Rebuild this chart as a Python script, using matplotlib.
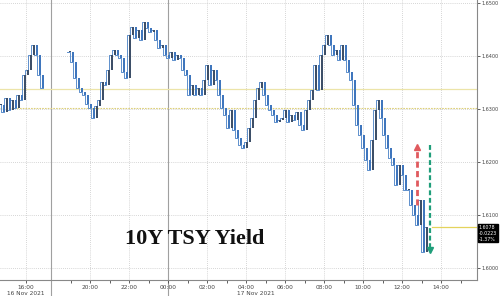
import numpy as np
import matplotlib
matplotlib.use("Agg")
import matplotlib.pyplot as plt
import matplotlib.transforms as mtransforms

# closing yield of each bar (about 9 minutes per bar); None = market closed
closes_16nov = [1.6308, 1.6295, 1.6321, 1.6298, 1.6317, 1.6302, 1.6327, 1.6317,
                1.6364, 1.6374, 1.6402, 1.6421, 1.6402, 1.6364, 1.6340]
closed_gap = [None] * 8
closes_session = [
    1.6408, 1.6389, 1.6359, 1.6340, 1.6332, 1.6327, 1.6310, 1.6302, 1.6283, 1.6306,
    1.6317, 1.6351, 1.6346, 1.6374, 1.6402, 1.6412, 1.6402, 1.6397, 1.6370, 1.6359,
    1.6440, 1.6455, 1.6434, 1.6449, 1.6431, 1.6465, 1.6453, 1.6446, 1.6449, 1.6431,
    1.6415, 1.6421, 1.6402, 1.6397, 1.6408, 1.6393, 1.6402, 1.6397, 1.6374, 1.6364,
    1.6327, 1.6346, 1.6327, 1.6340, 1.6327, 1.6355, 1.6383, 1.6346, 1.6374, 1.6355,
    1.6327, 1.6302, 1.6289, 1.6264, 1.6298, 1.6261, 1.6246, 1.6232, 1.6227, 1.6238,
    1.6264, 1.6283, 1.6317, 1.6340, 1.6351, 1.6327, 1.6308, 1.6298, 1.6289, 1.6276,
    1.6280, 1.6283, 1.6298, 1.6276, 1.6289, 1.6280, 1.6295, 1.6270, 1.6261, 1.6298,
    1.6317, 1.6336, 1.6383, 1.6336, 1.6402, 1.6421, 1.6440, 1.6421, 1.6402, 1.6412,
    1.6393, 1.6421, 1.6393, 1.6370, 1.6355, 1.6308, 1.6270, 1.6251, 1.6227, 1.6204,
    1.6185, 1.6242, 1.6298, 1.6317, 1.6283, 1.6251, 1.6227, 1.6208, 1.6195, 1.6157,
    1.6195, 1.6176, 1.6148, 1.6148, 1.6119, 1.6100, 1.6081, 1.6129, 1.6031, 1.6078,
]

last_price = 1.6078
change = "-0.0223"
change_pct = "-1.37%"
title = "10Y TSY Yield"

ref_levels = [1.6338, 1.6302]
red_arrow = (1.6119, 1.6232)
green_arrow = (1.6232, 1.6031)

tick_hours = [-8, -4, -2, 0, 2, 4, 6, 8, 10, 12, 14]
tick_labels = ["16:00", "20:00", "22:00", "00:00", "02:00", "04:00",
               "06:00", "08:00", "10:00", "12:00", "14:00"]
date_labels = ["16 Nov 2021", "17 Nov 2021"]
y_ticks = [1.60, 1.61, 1.62, 1.63, 1.64, 1.65]

BARS_PER_HOUR = 6.5
MIDNIGHT = 55.67


def hour_to_x(h):
    # the 16:00-18:00 stretch is squeezed (market closed part of it)
    if h < -6:
        return MIDNIGHT - 6 * BARS_PER_HOUR - (-6 - h) * 4.2
    return MIDNIGHT + h * BARS_PER_HOUR


closes = np.array([np.nan if v is None else v
                   for v in closes_16nov + closed_gap + closes_session])
x = np.arange(len(closes))
opens = np.concatenate([[np.nan], closes[:-1]])
opens = np.where(np.isnan(opens), closes, opens)

fig = plt.figure(figsize=(5.0, 2.96), dpi=100)
ax = fig.add_axes([0, 0.054, 0.954, 0.946])
ax.set_xlim(-0.33, 158.67)
ax.set_ylim(1.59777, 1.6506)

# grid
for h in tick_hours:
    ax.axvline(hour_to_x(h), color="#c8c8c8", lw=0.6, ls=(0, (1, 1.5)), zorder=0)
for lv in y_ticks:
    ax.axhline(lv, color="#c8c8c8", lw=0.6, ls=(0, (1, 1.5)), zorder=0)

# session separators
for xs in [hour_to_x(-6), MIDNIGHT]:
    ax.axvline(xs, ymin=-0.06, ymax=1, color="#a0a0a0", lw=0.8, clip_on=False, zorder=1)

ax.axhline(ref_levels[0], color="#ece4a8", lw=0.9, zorder=1)
ax.axhline(ref_levels[1], color="#ddd07a", lw=0.8, ls=(0, (1.5, 1)), zorder=1)

# candles
up = closes >= opens
colors = np.where(up, "#3d4f68", "#3f76bd")
heights = closes - opens
heights = np.where(np.abs(heights) < 0.00012, 0.00012, heights)
ax.plot(x, closes, drawstyle="steps-pre", color="#5d8fcc", lw=0.7, zorder=2)
ax.bar(x, heights, bottom=opens, width=0.75, color=colors, edgecolor="none", zorder=3)

# last price line
ax.plot([143.7, 158.67], [last_price, last_price], color="#e4d35c", lw=0.9, zorder=2)

# arrows
rx = 138.7
ax.plot([rx, rx], [red_arrow[0], red_arrow[1] - 0.0006], color="#e05a5e", lw=2.0,
        ls=(0, (2.2, 1.2)), zorder=5, solid_capstyle="butt")
ax.plot([rx], [red_arrow[1] - 0.0004], marker="^", ms=5, color="#e05a5e", zorder=5)
gx = 143.0
ax.plot([gx, gx], [green_arrow[0], green_arrow[1] + 0.0006], color="#1f9e7a", lw=1.6,
        ls=(0, (2.2, 1.2)), zorder=5)
ax.plot([gx], [green_arrow[1] + 0.0004], marker="v", ms=4.5, color="#1f9e7a", zorder=5)

ax.text(0.409, 0.145, title, transform=ax.transAxes, ha="center", va="center",
        fontsize=16, fontweight="bold", family="Liberation Serif", color="#111111")

# axes styling
for s in ["top", "left"]:
    ax.spines[s].set_visible(False)
for s in ["right", "bottom"]:
    ax.spines[s].set_color("#888888")
    ax.spines[s].set_linewidth(0.8)

ax.yaxis.tick_right()
ax.set_yticks(y_ticks)
ax.set_yticklabels([f"{v:.4f}" for v in y_ticks])
ax.tick_params(axis="y", labelsize=3.5, colors="#444444", length=2, width=0.6, pad=1)

ax.set_xticks([hour_to_x(h) for h in tick_hours])
ax.set_xticklabels(tick_labels)
ax.set_xticks([hour_to_x(h) for h in [-5, -3, -1, 1, 3, 5, 7, 9, 11, 13, 15]], minor=True)
ax.tick_params(axis="x", which="both", labelsize=4.2, colors="#444444", length=2,
               width=0.6, pad=1.5)

trans = mtransforms.blended_transform_factory(ax.transData, ax.transAxes)
ax.text(hour_to_x(-8), -0.048, date_labels[0], transform=trans, ha="center", va="center",
        fontsize=4.2, color="#444444")
ax.text(hour_to_x(4.5), -0.048, date_labels[1], transform=trans, ha="center", va="center",
        fontsize=4.2, color="#444444")

trans_y = mtransforms.blended_transform_factory(ax.transAxes, ax.transData)
ax.text(1.004, 1.6066, f"{last_price:.4f}\n{change}\n{change_pct}", transform=trans_y,
        ha="left", va="center", fontsize=3.4, color="white", linespacing=1.2,
        bbox=dict(boxstyle="square,pad=0.2", fc="black", ec="black"))

fig.savefig("out.png", dpi=100)
